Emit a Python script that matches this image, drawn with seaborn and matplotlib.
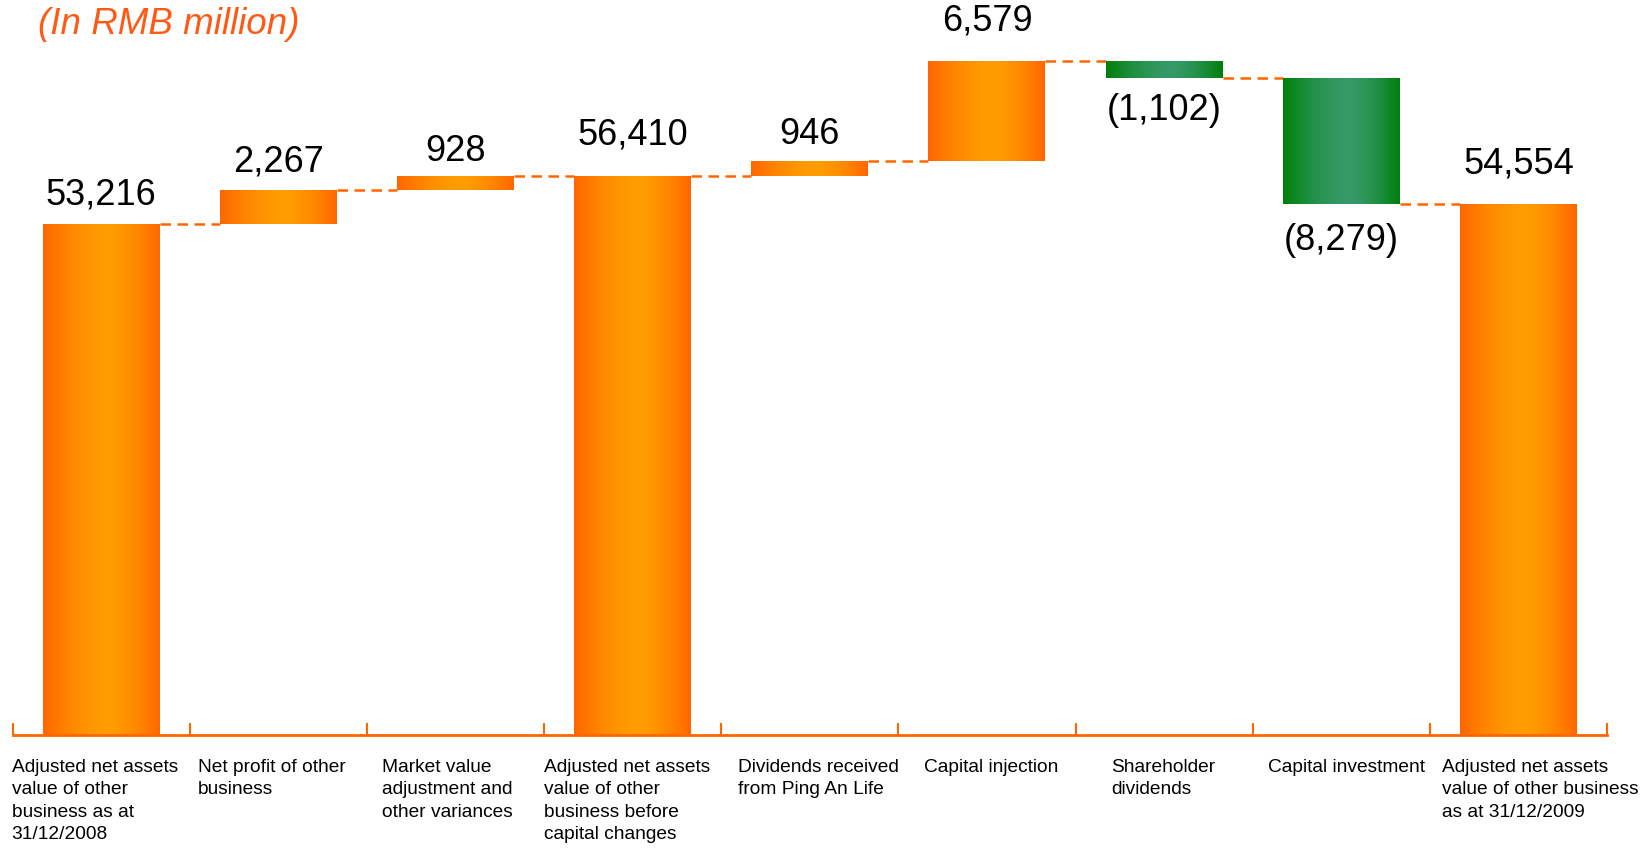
import numpy as np
import pandas as pd
import matplotlib
matplotlib.use("Agg")
import matplotlib.pyplot as plt
import seaborn as sns
from matplotlib.colors import to_rgb
from matplotlib.transforms import blended_transform_factory

# ---------------- data ----------------
categories = [
    "Adjusted net assets\nvalue of other\nbusiness as at\n31/12/2008",
    "Net profit of other\nbusiness",
    "Market value\nadjustment and\nother variances",
    "Adjusted net assets\nvalue of other\nbusiness before\ncapital changes",
    "Dividends received\nfrom Ping An Life",
    "Capital injection",
    "Shareholder\ndividends",
    "Capital investment",
    "Adjusted net assets\nvalue of other business\nas at 31/12/2009",
]
values = [53216, 2267, 928, 56410, 946, 6579, -1102, -8279, 54554]
is_total = [True, False, False, True, False, False, False, False, True]
value_labels = ["53,216", "2,267", "928", "56,410", "946", "6,579", "(1,102)", "(8,279)", "54,554"]
title = "(In RMB million)"

# ---------------- layout / style constants ----------------
ORANGE_EDGE, ORANGE_MID = "#FF6600", "#FF9D00"
GREEN_EDGE, GREEN_MID = "#007F0A", "#359A68"
label_shift_px = [-1, 8, 15, 0, 17, 26, 36, 15, 12]
value_gap_px = [29, 28, 24, 41, 27, 40, 33, 36, 40]
Y_MIN, Y_MAX = 19700, 67690

# waterfall geometry derived from the data
bottoms, levels = [], []
running = 0
for v, t in zip(values, is_total):
    if t:
        bottoms.append(0)
        running = v
    else:
        bottoms.append(running)
        running += v
    levels.append(running)

df = pd.DataFrame({
    "key": [f"c{i}" for i in range(len(values))],
    "height": values,
    "bottom": bottoms,
})

sns.set_theme(style="white")
plt.rcParams["font.family"] = ["Liberation Sans", "DejaVu Sans"]

fig = plt.figure(figsize=(16.41, 8.5), dpi=100)
ax = fig.add_axes([12.6 / 1641, 115 / 850, 1594.4 / 1641, 731 / 850])

bar_w = 0.66
sns.barplot(data=df, x="key", y="height", bottom=df["bottom"].values,
            width=bar_w, color=ORANGE_EDGE, errorbar=None, ax=ax,
            edgecolor="none", linewidth=0)

ax.set_xlim(-0.5, len(values) - 0.5)
ax.set_ylim(Y_MIN, Y_MAX)


def gradient(edge, mid, n=256, peak=0.55):
    t = np.linspace(0, 1, n)
    d = np.where(t < peak, (peak - t) / peak, (t - peak) / (1 - peak))
    w = 1 - d ** 1.6
    e, m = np.array(to_rgb(edge)), np.array(to_rgb(mid))
    cols = e[None, :] + (m - e)[None, :] * w[:, None]
    return cols[None, :, :]


for i, patch in enumerate(ax.patches[:len(values)]):
    x0, y0 = patch.get_x(), patch.get_y()
    x1, y1 = x0 + patch.get_width(), y0 + patch.get_height()
    lo, hi = max(min(y0, y1), Y_MIN), max(y0, y1)
    if values[i] < 0:
        g = gradient(GREEN_EDGE, GREEN_MID)
    else:
        g = gradient(ORANGE_EDGE, ORANGE_MID)
    im = ax.imshow(g, extent=[x0, x1, lo, hi], aspect="auto",
                   zorder=patch.get_zorder() + 0.1, interpolation="bilinear")
    im.set_clip_path(patch)

ax.set_xlim(-0.5, len(values) - 0.5)
ax.set_ylim(Y_MIN, Y_MAX)

# connectors
for i in range(len(values) - 1):
    ax.plot([i + bar_w / 2, i + 1 - bar_w / 2], [levels[i], levels[i]],
            color=ORANGE_EDGE, lw=1.8, dashes=(4.2, 2.6), zorder=1)

# value labels
for i, (v, lab) in enumerate(zip(values, value_labels)):
    top = max(bottoms[i], bottoms[i] + v)
    bot = min(bottoms[i], bottoms[i] + v)
    if v >= 0:
        ax.annotate(lab, (i, top), xytext=(0, value_gap_px[i]), textcoords="offset pixels",
                    ha="center", va="center", fontsize=26, color="black")
    else:
        ax.annotate(lab, (i, bot), xytext=(0, -value_gap_px[i]), textcoords="offset pixels",
                    ha="center", va="center", fontsize=26, color="black")

# axis styling
for s in ["left", "right", "top"]:
    ax.spines[s].set_visible(False)
ax.spines["bottom"].set_color(ORANGE_EDGE)
ax.spines["bottom"].set_linewidth(2)
ax.set_yticks([])
ax.set_xticks(np.arange(len(values) + 1) - 0.5)
ax.set_xticklabels([])
ax.tick_params(axis="x", direction="in", length=9, width=1.5, color=ORANGE_EDGE, bottom=True)
ax.set_xlabel("")
ax.set_ylabel("")

trans = blended_transform_factory(ax.transData, ax.transAxes)
for i, cat in enumerate(categories):
    ax.annotate(cat, (i - 0.5, 0), xycoords=trans,
                xytext=(label_shift_px[i], -24), textcoords="offset pixels",
                ha="left", va="top", fontsize=13.8, color="black", linespacing=1.42)

fig.text(38 / 1641, 1 - 25 / 850, title, fontsize=26.5, style="italic",
         color="#FF5A14", ha="left", va="center")

fig.savefig("out.png", dpi=100)
